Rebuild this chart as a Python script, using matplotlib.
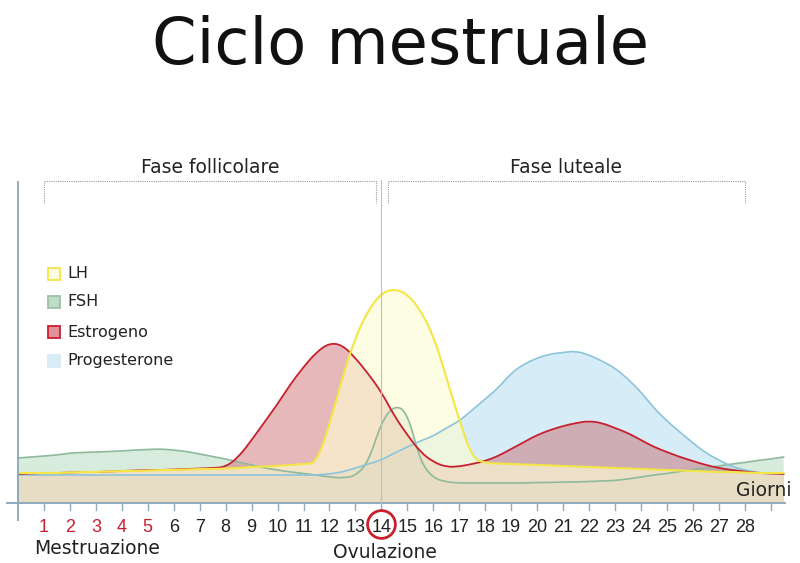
import matplotlib
matplotlib.use("Agg")
import matplotlib.pyplot as plt
from matplotlib.path import Path
from matplotlib.patches import PathPatch

# ---------------- data ----------------
days = [i * 0.5 for i in range(60)]          # 0 .. 29.5

lh = [3.0, 3.0, 3.0, 3.0, 3.05, 3.1, 3.1, 3.15, 3.2, 3.2, 3.25, 3.3, 3.3, 3.35, 3.4, 3.4,
      3.45, 3.5, 3.6, 3.65, 3.7, 3.8, 3.9, 4.0, 7.8, 12.6, 16.6, 19.3, 21.0, 21.4, 20.9, 19.3,
      16.8, 12.6, 8.3, 4.5, 4.0, 3.95, 3.9, 3.85, 3.8, 3.75, 3.7, 3.65, 3.6, 3.55, 3.5, 3.45,
      3.4, 3.35, 3.3, 3.25, 3.2, 3.15, 3.1, 3.1, 3.05, 3.0, 3.0, 3.0]

fsh = [4.5, 4.6, 4.7, 4.8, 5.0, 5.05, 5.1, 5.15, 5.2, 5.3, 5.35, 5.4, 5.3, 5.15, 4.9, 4.65,
       4.4, 4.1, 3.8, 3.5, 3.3, 3.1, 2.95, 2.8, 2.6, 2.5, 2.7, 4.1, 8.1, 9.8, 9.1, 4.1,
       2.5, 2.1, 2.0, 2.0, 2.0, 2.0, 2.0, 2.0, 2.05, 2.05, 2.1, 2.1, 2.15, 2.2, 2.25, 2.4,
       2.6, 2.8, 2.95, 3.15, 3.35, 3.5, 3.7, 3.9, 4.05, 4.25, 4.4, 4.6]

estrogeno = [2.9, 2.95, 3.0, 3.0, 3.05, 3.1, 3.1, 3.15, 3.2, 3.25, 3.3, 3.3, 3.35, 3.4, 3.45,
             3.5, 3.6, 4.6, 6.3, 8.1, 9.9, 11.9, 13.6, 15.1, 16.0, 15.8, 14.5, 12.9, 11.1, 8.7,
             6.8, 5.1, 4.1, 3.6, 3.65, 3.9, 4.2, 4.7, 5.4, 6.1, 6.8, 7.3, 7.7, 8.0, 8.2, 8.0,
             7.5, 7.0, 6.3, 5.6, 5.1, 4.6, 4.2, 3.8, 3.5, 3.3, 3.15, 3.0, 2.95, 2.9]

progesterone = [2.8] * 24 + [2.9, 3.1, 3.5, 3.9, 4.3, 5.0, 5.6, 6.2, 6.7, 7.5, 8.2, 9.3, 10.4,
                             11.5, 13.0, 13.9, 14.5, 14.9, 15.05, 15.2, 14.8, 14.2, 13.5, 12.4,
                             11.1, 9.5, 8.2, 7.1, 6.0, 5.0, 4.3, 3.65, 3.3, 3.05, 2.95, 2.9]

day_labels = list(range(1, 29))
menstrual_days = [1, 2, 3, 4, 5]
ovulation_day = 14
phases = [("Fase follicolare", 1.0, 13.8), ("Fase luteale", 14.25, 28.0)]
legend_names = ["LH", "FSH", "Estrogeno", "Progesterone"]

# ---------------- styling ----------------
W, H = 800, 563
fig = plt.figure(figsize=(W / 100, H / 100), dpi=100)
fig.patch.set_facecolor("white")

ax_left, ax_right, ax_top, ax_bottom = 18, 785, 180, 503
ax = fig.add_axes([ax_left / W, (H - ax_bottom) / H,
                   (ax_right - ax_left) / W, (ax_bottom - ax_top) / H])
XMAX = 29.55
YMAX = 32.3
ax.set_xlim(0, XMAX)
ax.set_ylim(0, YMAX)
ax.axis("off")


def smooth_path(xs, ys, closed):
    """Quadratic-Bezier rendering through the data points (midpoint scheme)."""
    pts = list(zip(xs, ys))
    verts, codes = [], []
    if closed:
        verts.append((xs[0], 0.0)); codes.append(Path.MOVETO)
        verts.append(pts[0]); codes.append(Path.LINETO)
    else:
        verts.append(pts[0]); codes.append(Path.MOVETO)
    m0 = ((pts[0][0] + pts[1][0]) / 2, (pts[0][1] + pts[1][1]) / 2)
    verts.append(m0); codes.append(Path.LINETO)
    for i in range(1, len(pts) - 1):
        mi = ((pts[i][0] + pts[i + 1][0]) / 2, (pts[i][1] + pts[i + 1][1]) / 2)
        verts += [pts[i], mi]; codes += [Path.CURVE3, Path.CURVE3]
    verts.append(pts[-1]); codes.append(Path.LINETO)
    if closed:
        verts.append((xs[-1], 0.0)); codes.append(Path.LINETO)
        verts.append((xs[0], 0.0)); codes.append(Path.CLOSEPOLY)
    return Path(verts, codes)


series = [
    ("FSH", fsh, (0.57, 0.79, 0.64), 0.35, "#8fb99b", 1.2),
    ("Progesterone", progesterone, (0.55, 0.79, 0.90), 0.35, "#8cc5db", 1.2),
    ("Estrogeno", estrogeno, (0.78, 0.34, 0.36), 0.42, "#c8202e", 1.3),
    ("LH", lh, (0.992, 0.988, 0.83), 0.65, "#f3e646", 1.5),
]
for name, vals, face, alpha, edge, lw in series:
    ax.add_patch(PathPatch(smooth_path(days, vals, True), facecolor=face, alpha=alpha,
                           lw=0, zorder=1))
for name, vals, face, alpha, edge, lw in series:
    ax.add_patch(PathPatch(smooth_path(days, vals, False), facecolor="none",
                           edgecolor=edge, lw=lw, zorder=2, capstyle="round",
                           joinstyle="round"))

axis_col = "#8fabc0"
ax.plot([-0.42, XMAX], [0, 0], color=axis_col, lw=1.4, clip_on=False, zorder=3)
ax.plot([0, 0], [-1.7, 32.1], color=axis_col, lw=1.4, clip_on=False, zorder=3)
for d in range(1, 30):
    ax.plot([d, d], [0, -0.7], color=axis_col, lw=1.0, clip_on=False)

ax.plot([ovulation_day, ovulation_day], [0, YMAX], color="#b9bfc5", lw=0.8,
        clip_on=False, zorder=3)

tick_font = ["Liberation Sans Narrow", "Liberation Sans", "DejaVu Sans"]
round_font = ["DejaVu Sans"]

for d in day_labels:
    col = "#c8202e" if d in menstrual_days else "#222222"
    ax.text(d, -2.4, str(d), ha="center", va="center", fontsize=13,
            family=tick_font, color=col, clip_on=False)
ax.plot([ovulation_day], [-2.1], marker="o", ms=20, mfc="none", mec="#c8202e", mew=2,
        clip_on=False)

for label, x0, x1 in phases:
    ax.plot([x0, x0, x1, x1], [30.0, 32.2, 32.2, 30.0], color="#9a9a9a", lw=0.8,
            ls=(0, (1, 1)), clip_on=False)
    ax.text((x0 + x1) / 2, 33.5, label, ha="center", va="center", fontsize=13.5,
            family=round_font, color="#222222", clip_on=False)


def ftext(x, y, s, **kw):
    fig.text(x / W, 1 - y / H, s, **kw)


ftext(400, 46, "Ciclo mestruale", ha="center", va="center", fontsize=46,
      family=round_font, color="#111111")
ftext(97, 548, "Mestruazione", ha="center", va="center", fontsize=13.5,
      family=round_font, color="#222222")
ftext(385, 552, "Ovulazione", ha="center", va="center", fontsize=13.5,
      family=round_font, color="#222222")
ftext(764, 490, "Giorni", ha="center", va="center", fontsize=13.5,
      family=round_font, color="#222222")

leg_y = [274, 302, 332, 361]
leg_face = {"LH": "#fdfbe0", "FSH": "#bedcc6", "Estrogeno": "#e0949a", "Progesterone": "#d9ecf6"}
leg_edge = {"LH": "#f3e646", "FSH": "#9fbfa7", "Estrogeno": "#c8202e", "Progesterone": "#d9ecf6"}
for name, y in zip(legend_names, leg_y):
    r = plt.Rectangle((48 / W, 1 - (y + 6) / H), 12 / W, 12 / H, transform=fig.transFigure,
                      facecolor=leg_face[name], edgecolor=leg_edge[name], lw=1.3)
    fig.patches.append(r)
    ftext(67, y, name, ha="left", va="center", fontsize=11.5, family=round_font,
          color="#222222")

fig.savefig("out.png", dpi=100, facecolor="white")
